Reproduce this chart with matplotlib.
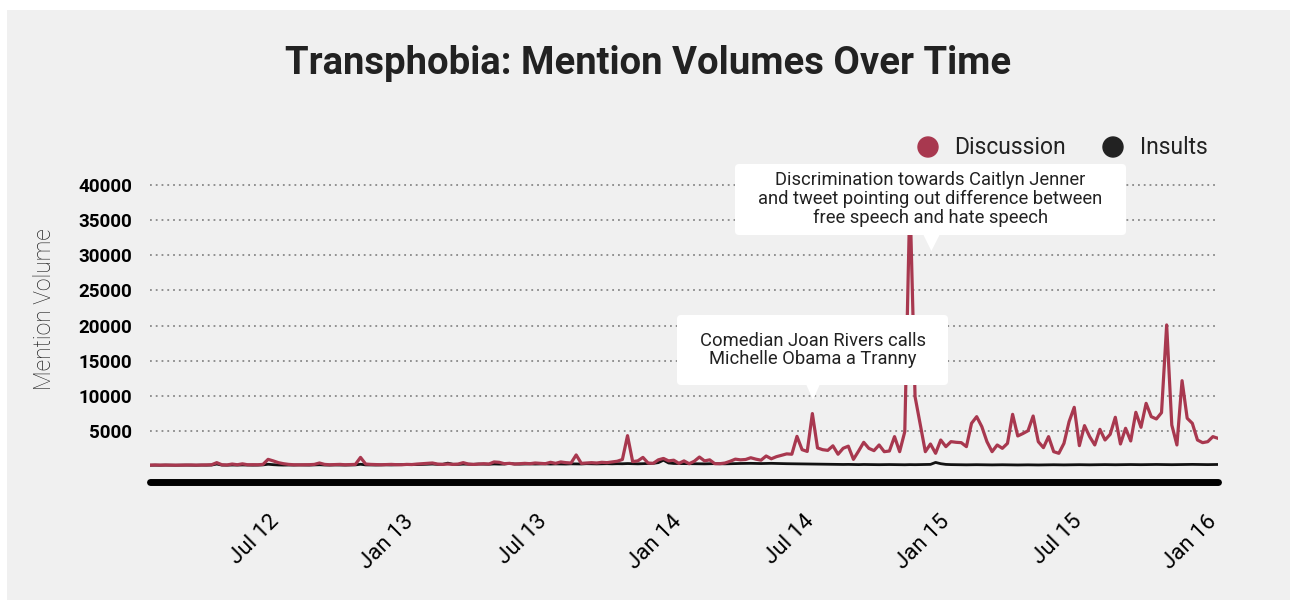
import pandas as pd
import matplotlib
matplotlib.use('Agg')
import matplotlib.pyplot as plt
import matplotlib.dates as mdates
import matplotlib.transforms as mtransforms
from matplotlib.patches import Rectangle, FancyBboxPatch, Polygon, Circle

plt.rcParams['font.family'] = ['Roboto', 'DejaVu Sans']

# weekly mention counts, Jan 2012 - Jan 2016
weeks = pd.date_range('2012-01-08', periods=209, freq='7D')

discussion = [
    100, 120, 100, 110, 100, 90, 100, 110, 120, 100,
    110, 130, 150, 450, 150, 120, 250, 150, 280, 150,
    160, 150, 200, 920, 700, 450, 300, 200, 150, 140,
    150, 160, 200, 400, 200, 150, 180, 200, 150, 180,
    200, 1200, 250, 200, 180, 150, 170, 200, 160, 150,
    200, 180, 250, 300, 350, 400, 250, 200, 250, 200,
    250, 450, 250, 200, 250, 300, 250, 550, 500, 300,
    350, 250, 300, 350, 300, 400, 350, 300, 500, 350,
    550, 450, 400, 1550, 350, 400, 450, 400, 500, 450,
    550, 650, 900, 4300, 600, 700, 1200, 400, 350, 850,
    1050, 700, 800, 350, 700, 300, 650, 1250, 700, 850,
    300, 300, 400, 650, 950, 850, 900, 1150, 950, 800,
    1400, 1000, 1300, 1500, 1700, 1650, 4200, 2300, 2050, 7450,
    2550, 2300, 2200, 2850, 1650, 2500, 2800, 920, 2100, 3350,
    2490, 2160, 2970, 2015, 2110, 4160, 2015, 4870, 38500, 9860,
    5900, 2015, 3110, 1780, 3680, 2730, 3445, 3350, 3300, 2730,
    6060, 7010, 5585, 3445, 2015, 2970, 2490, 3200, 7340, 4255,
    4600, 5000, 7100, 3440, 2590, 4160, 2015, 1780, 3200, 6300,
    8340, 2875, 5730, 4160, 2970, 5200, 3680, 4490, 6920, 3110,
    5350, 3540, 7630, 5490, 8910, 7010, 6680, 7580, 20090, 5820,
    2970, 12140, 6780, 6060, 3680, 3300, 3440, 4160, 3920,
]

insults = [
    80, 90, 80, 100, 90, 80, 90, 100, 90, 80, 100, 90, 110,
    250,
    100, 90, 110, 100, 120, 100, 90, 100, 130,
    220,
    160, 120, 100, 110, 100, 120, 110, 100, 130, 150, 110, 100, 120, 110, 100, 120, 130,
    220,
    130, 120, 110, 130, 140, 120, 150, 160,
    180, 200, 170, 190, 220, 250, 200, 220,
    380,
    220, 200, 240, 230, 210, 250, 230, 220, 260, 240, 250,
    350,
    260, 240, 250, 270, 250, 260, 280, 250, 270, 260, 250, 280, 270, 260, 300, 280, 270, 290, 300, 280,
    300, 290, 320, 300, 280, 300, 310, 350,
    450, 800, 400,
    330, 320, 300, 310, 300, 290, 280, 300, 310, 290, 280, 300, 320, 330, 340, 350, 330, 320, 340, 350,
    330, 320, 300, 290, 280, 270, 260, 250, 240,
    230, 220, 210, 200, 190, 200, 180, 170, 190, 180, 170, 160, 170, 180, 170, 160, 150, 170, 160, 170,
    180, 200,
    480,
    300, 200, 170, 160, 150, 140, 150, 160, 150, 140, 130, 140, 150, 140, 130, 120, 130, 140, 130, 120,
    130, 140, 150, 140, 130, 140, 150, 160, 150, 140, 150, 160, 170, 160, 150, 160, 170, 180, 170, 160,
    170, 180, 190, 180, 170, 160, 170, 180, 190, 200, 190, 180, 170, 180, 190,
]

yticks = [5000, 10000, 15000, 20000, 25000, 30000, 35000, 40000]

red = '#a8384f'
dark = '#222222'

W, H = 1292, 606
fig = plt.figure(figsize=(W / 100, H / 100), dpi=100, facecolor='white')

# grey panel behind everything
fig.add_artist(Rectangle((7 / W, 6 / H), 1283 / W, 590 / H, transform=fig.transFigure,
                         facecolor='#f0f0f0', edgecolor='none', zorder=-10))

ax = fig.add_axes([150 / W, 1 - 482 / H, 1068 / W, (482 - 178.3) / H])
ax.set_facecolor('none')
ax.plot(weeks, insults, color='#111111', lw=2.0, zorder=2)
ax.plot(weeks, discussion, color=red, lw=2.3, zorder=3)
ax.set_xlim(weeks[0], weeks[-1])
ax.set_ylim(-2310, 41000)

ax.set_yticks(yticks)
ax.set_yticklabels([str(v) for v in yticks])
ax.yaxis.grid(True, color='#888888', linestyle=(0, (1, 2.2)), linewidth=1.3)
ax.set_axisbelow(True)
for s in ['left', 'right', 'top']:
    ax.spines[s].set_visible(False)
ax.spines['bottom'].set_linewidth(5)
ax.spines['bottom'].set_color('black')
ax.spines['bottom'].set_capstyle('round')

ax.tick_params(axis='y', length=0, pad=13, labelsize=13.5, labelcolor='black')
for lab in ax.get_yticklabels():
    lab.set_fontweight('bold')

ax.xaxis.set_major_locator(mdates.MonthLocator(bymonth=[1, 7]))
ax.xaxis.set_major_formatter(mdates.DateFormatter('%b %y'))
ax.tick_params(axis='x', length=0, pad=21, labelsize=16, labelcolor='black')
shift = mtransforms.ScaledTranslation(-0.10, 0, fig.dpi_scale_trans)
for lab in ax.get_xticklabels():
    lab.set_rotation(45)
    lab.set_ha('right')
    lab.set_rotation_mode('anchor')
    lab.set_transform(lab.get_transform() + shift)

fig.text(45 / W, 1 - 309 / H, 'Mention Volume', rotation=90, ha='center', va='center',
         fontsize=16.5, fontweight='light', color='#222222')

# overlay in pixel coords for title, legend and call-outs
ov = fig.add_axes([0, 0, 1, 1])
ov.set_xlim(0, W)
ov.set_ylim(H, 0)
ov.axis('off')
ov.patch.set_alpha(0)

ov.text(648.5, 64, 'Transphobia: Mention Volumes Over Time', ha='center', va='center',
        fontsize=27.5, fontweight='bold', color=dark)

ov.add_patch(Circle((928, 147), 10, color=red))
ov.text(954, 147, 'Discussion', va='center', fontsize=16.5, color=dark)
ov.add_patch(Circle((1113, 147), 10, color=dark))
ov.text(1140, 147, 'Insults', va='center', fontsize=16.5, color=dark)

# call-out boxes
ov.add_patch(FancyBboxPatch((735, 164), 391, 71, boxstyle='round,pad=0,rounding_size=4',
                            facecolor='white', edgecolor='none'))
ov.add_patch(Polygon([(923, 234), (940, 234), (931.4, 251)], facecolor='white', edgecolor='none'))
ov.text(930.5, 199, 'Discrimination towards Caitlyn Jenner\nand tweet pointing out difference between\nfree speech and hate speech',
        ha='center', va='center', multialignment='center', fontsize=13.2, linespacing=1.03, color=dark)

ov.add_patch(FancyBboxPatch((677, 315), 271, 70, boxstyle='round,pad=0,rounding_size=4',
                            facecolor='white', edgecolor='none'))
ov.add_patch(Polygon([(806, 384), (820, 384), (813, 400)], facecolor='white', edgecolor='none'))
ov.text(812.7, 350, 'Comedian Joan Rivers calls\nMichelle Obama a Tranny',
        ha='center', va='center', multialignment='center', fontsize=13.2, linespacing=1.03, color=dark)

fig.savefig('out.png', dpi=100, facecolor=fig.get_facecolor())
